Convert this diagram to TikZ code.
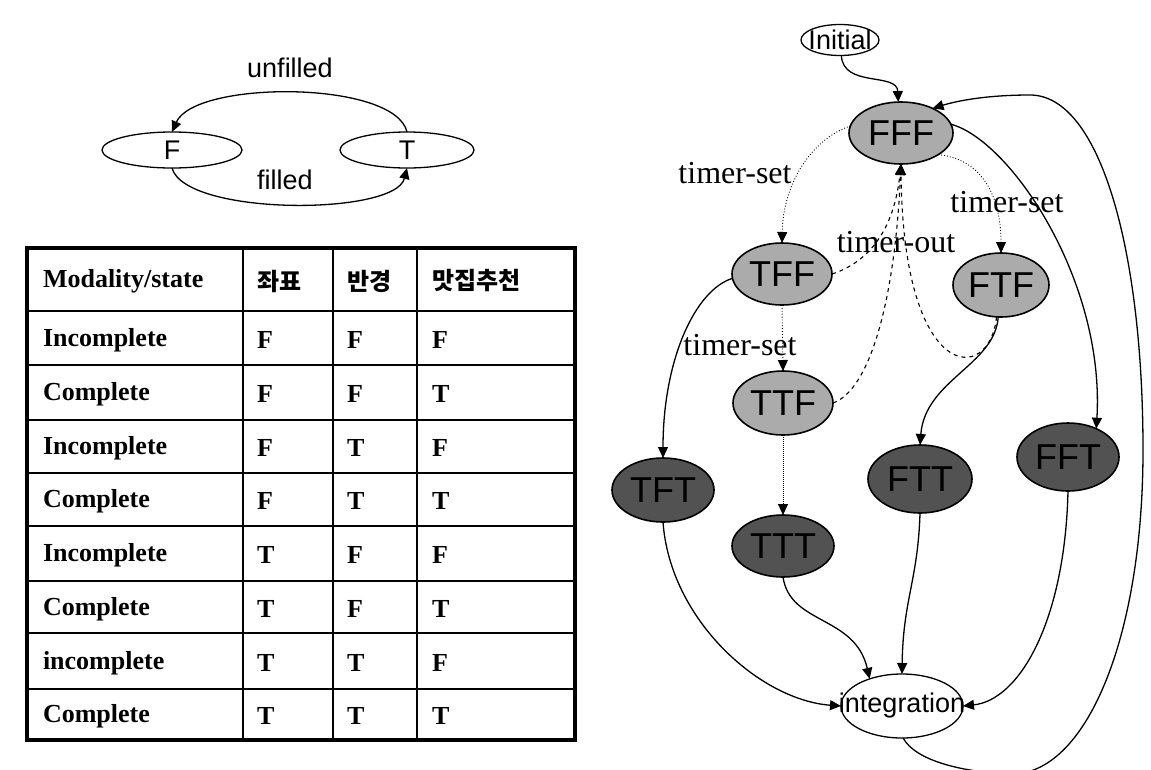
\documentclass[tikz,border=0pt]{standalone}
\usepackage{fontspec}
\setmainfont{Liberation Serif}
\newfontfamily\sansf{Liberation Sans}
\newfontfamily\korf{Noto Sans CJK KR}
\usetikzlibrary{shapes.geometric,arrows.meta}
\begin{document}
\begin{tikzpicture}[x=1pt,y=-1pt,
  every node/.style={inner sep=0pt,outer sep=0pt},
  arr/.style={line width=1.3pt,-{Triangle[length=11pt,width=10pt]}},
  dotarr/.style={line width=0.9pt,dotted,-{Triangle[length=11pt,width=10pt]}},
  dasharr/.style={line width=1.1pt,dash pattern=on 4pt off 4pt,-{Triangle[length=11pt,width=10pt]}},
  sm/.style={draw,line width=1.3pt,ellipse,fill=white},
  lt/.style={draw,line width=1.6pt,ellipse,fill=black!33},
  dk/.style={draw,line width=1.6pt,ellipse,fill=black!68},
  stxt/.style={font=\sansf\fontsize{27}{30}\selectfont},
  ntxt/.style={font=\sansf\fontsize{36}{38}\selectfont},
  etxt/.style={font=\fontsize{32}{34}\selectfont},
  ttxt/.style={font=\bfseries\fontsize{26}{30}\selectfont,anchor=west},
  ktxt/.style={font=\korf\bfseries\fontsize{24}{28}\selectfont,anchor=west},
  tline/.style={line width=1.4pt},
  tframe/.style={line width=3.5pt}
]
\useasboundingbox (0,0) rectangle (1151,769);
\clip (0,0) rectangle (1151,769);

% ---------- small state diagram ----------
\node[sm,minimum width=140pt,minimum height=36pt,label={[stxt]center:F}] (F) at (172,150) {};
\node[sm,minimum width=134pt,minimum height=36pt,label={[stxt]center:T}] (T) at (407,150) {};
\draw[arr] (T.north) .. controls (395,80) and (195,80) .. (F.north);
\draw[arr] (F.south) .. controls (185,216) and (395,216) .. (T.south);
\node[stxt] (lunf) at (290,68) {unfilled};
\node[stxt] (lfil) at (285,180) {filled};

% ---------- table ----------
\foreach \y in {311,365,420,473,526,581,633,689} \draw[tline] (27,\y) -- (575,\y);
\foreach \x in {243,333,417} \draw[tline] (\x,248) -- (\x,740);
\draw[tframe] (27,248) rectangle (575,740);

\node[ttxt] (h1) at (43,281) {Modality/state};
\node[ktxt] (h2) at (257,281) {좌표};
\node[ktxt] (h3) at (347,281) {반경};
\node[ktxt] (h4) at (432,281) {맛집추천};

\foreach \yc/\m/\a/\b/\c in {340/Incomplete/F/F/F, 394/Complete/F/F/T, 448/Incomplete/F/T/F, 501/Complete/F/T/T, 555/Incomplete/T/F/F, 609/Complete/T/F/T, 663/incomplete/T/T/F, 716/Complete/T/T/T}{
  \node[ttxt] (m\yc) at (43,\yc) {\m};
  \node[ttxt] (a\yc) at (257,\yc) {\a};
  \node[ttxt] (b\yc) at (347,\yc) {\b};
  \node[ttxt] (c\yc) at (432,\yc) {\c};
}

% ---------- big state diagram ----------
\node[sm,minimum width=78pt,minimum height=31pt,label={[stxt]center:Initial}] (Init) at (840,40) {};
\node[lt,minimum width=104pt,minimum height=62pt,label={[ntxt]center:FFF}] (FFF) at (901,133) {};
\node[lt,minimum width=100pt,minimum height=62pt,label={[ntxt]center:TFF}] (TFF) at (782,274) {};
\node[lt,minimum width=96pt,minimum height=64pt,label={[ntxt]center:FTF}] (FTF) at (1001,285) {};
\node[lt,minimum width=100pt,minimum height=64pt,label={[ntxt]center:TTF}] (TTF) at (783,403) {};
\node[dk,minimum width=102pt,minimum height=64pt,label={[ntxt]center:TFT}] (TFT) at (663,490) {};
\node[dk,minimum width=102pt,minimum height=62pt,label={[ntxt]center:TTT}] (TTT) at (783,546) {};
\node[dk,minimum width=104pt,minimum height=68pt,label={[ntxt]center:FTT}] (FTT) at (920,479) {};
\node[dk,minimum width=102pt,minimum height=68pt,label={[ntxt]center:FFT}] (FFT) at (1068,457) {};
\node[sm,minimum width=122pt,minimum height=64pt,label={[stxt]center:integration}] (INT) at (902,706) {};

\draw[arr] (Init.-85) .. controls (843,88) and (897,72) .. (FFF.95);
\draw[dotarr] (FFF.172) .. controls (810,140) and (783,185) .. (TFF.north);
\draw[dotarr] (FFF.-30) .. controls (988,160) and (1001,205) .. (FTF.north);
\draw[arr] (FFF.10) .. controls (1010,140) and (1105,280) .. (FFT.45);
\draw[arr] (INT.-88) .. controls (915,760) and (960,772) .. (1010,774)
   .. controls (1085,776) and (1143,640) .. (1143,450)
   .. controls (1143,250) and (1100,95) .. (1030,95)
   .. controls (990,95) and (960,100) .. (FFF.38);
\draw[arr] (TFF.185) .. controls (695,290) and (663,360) .. (TFT.north);
\draw[dotarr] (TFF.south) -- (TTF.north);
\draw[dasharr] (TFF.east) .. controls (860,265) and (893,240) .. (FFF.south);
\draw[dasharr] (TTF.east) .. controls (870,390) and (895,300) .. (FFF.south);
\draw[dasharr] (FTF.-98) .. controls (990,385) and (903,385) .. (FFF.south);
\draw[arr] (FTF.-95) .. controls (995,365) and (925,380) .. (FTT.north);
\draw[arr,line width=1pt,densely dotted] (TTF.south) -- (TTT.north);
\draw[arr] (TFT.south) .. controls (670,620) and (760,700) .. (INT.west);
\draw[arr] (TTT.south) .. controls (790,625) and (855,615) .. (INT.140);
\draw[arr] (FTT.south) .. controls (918,580) and (903,600) .. (INT.north);
\draw[arr] (FFT.south) .. controls (1065,620) and (1020,700) .. (INT.east);

\node[etxt] (l1) at (735,173) {timer-set};
\node[etxt] (l2) at (1007,202) {timer-set};
\node[etxt] (l3) at (740,345) {timer-set};
\node[etxt] (l4) at (896,242) {timer-out};
\end{tikzpicture}
\end{document}
